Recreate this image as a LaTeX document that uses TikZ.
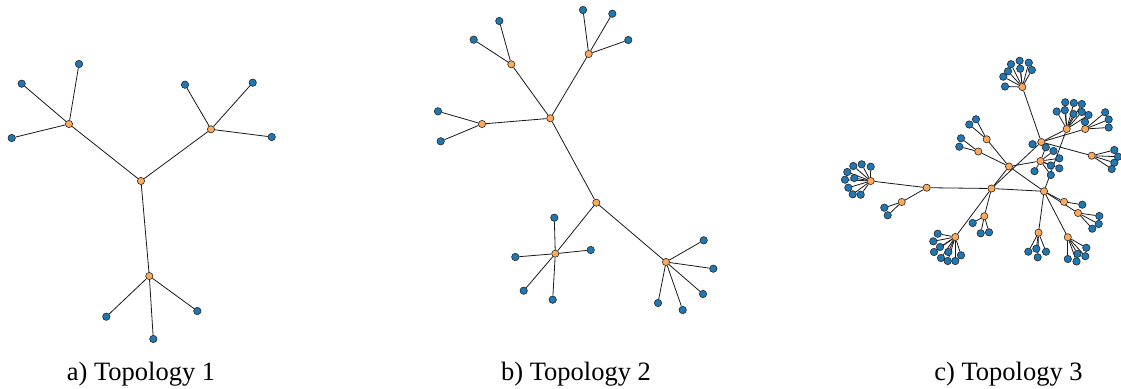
\documentclass[tikz,border=0pt]{standalone}
\usepackage{fontspec}
\setmainfont{Liberation Serif}
\pgfdeclarelayer{edges}
\pgfsetlayers{edges,main}
\definecolor{leafblue}{RGB}{31,119,180}
\definecolor{huborange}{RGB}{255,170,90}
\tikzset{
  leaf/.style={circle,draw=black!85,line width=0.6pt,fill=leafblue,inner sep=0pt,minimum size=7.4pt},
  hub/.style={circle,draw=black!85,line width=0.6pt,fill=huborange,inner sep=0pt,minimum size=7.2pt},
  link/.style={draw=black!90,line width=0.8pt},
  caption/.style={font=\fontsize{26.5}{30}\selectfont,anchor=base,inner sep=0pt}
}
% leaves hanging from one hub: \addleaves{hub}{x1/y1,x2/y2,...}
\newcommand\addleaves[2]{%
  \foreach \lx/\ly [count=\k] in {#2}{%
    \node[leaf] (#1-\k) at (\lx,\ly) {};
    \begin{pgfonlayer}{edges}\draw[link] (#1) -- (#1-\k);\end{pgfonlayer}
  }%
}
\newcommand\links[1]{%
  \begin{pgfonlayer}{edges}
  \foreach \ua/\ub in {#1}{\draw[link] (\ua) -- (\ub);}
  \end{pgfonlayer}%
}
\begin{document}
\begin{tikzpicture}[x=1pt,y=-1pt]
\useasboundingbox (0,0) rectangle (1121,388);

% ---------- Topology 1 ----------
\node[hub] (c1)  at (141,181) {};
\node[hub] (c1a) at (69,124) {};
\node[hub] (c1b) at (211,129.3) {};
\node[hub] (c1c) at (149.3,276) {};
\links{c1/c1a,c1/c1b,c1/c1c}
\addleaves{c1a}{79/64,21.7/83.7,11.7/138}
\addleaves{c1b}{185/84.7,252.7/82.7,271.7/137}
\addleaves{c1c}{106.3/316.7,153.3/339,197.3/311}

% ---------- Topology 2 ----------
\node[hub] (p)  at (550.3,118.3) {};
\node[hub] (q)  at (596.3,202.7) {};
\node[hub] (p1) at (511.3,64.3) {};
\node[hub] (p2) at (588.7,54) {};
\node[hub] (p3) at (482,124) {};
\node[hub] (q1) at (555.3,253.7) {};
\node[hub] (q2) at (666,262) {};
\links{p/p1,p/p2,p/p3,p/q,q/q1,q/q2}
\addleaves{p1}{499.3/21,473.7/39.7}
\addleaves{p2}{583/10,612.3/13.7,628.3/40}
\addleaves{p3}{438/111.3,440.7/141.3}
\addleaves{q1}{554.3/217.7,515.3/257,590.7/250,523.7/290.7,552.7/299.7}
\addleaves{q2}{703.7/240.3,713.3/268.7,703/294,682.7/310,658/303}

% ---------- Topology 3 ----------
\node[hub] (t)  at (1022.3,87) {};
\node[hub] (a)  at (1041.3,142) {};
\node[hub] (b)  at (1040.5,161) {};
\node[hub] (h1) at (1066.7,129) {};
\node[hub] (h2) at (1085.2,129) {};
\node[hub] (k)  at (1091.7,155.7) {};
\node[hub] (d)  at (986.7,139.3) {};
\node[hub] (e)  at (978.3,151.5) {};
\node[hub] (c)  at (1009,166.5) {};
\node[hub] (l)  at (991.5,188.5) {};
\node[hub] (r)  at (1044,191.3) {};
\node[hub] (f)  at (1064,201.8) {};
\node[hub] (g)  at (1078,213) {};
\node[hub] (h)  at (984.3,216.2) {};
\node[hub] (i)  at (1038.5,232.7) {};
\node[hub] (j)  at (1067.8,237.2) {};
\node[hub] (m)  at (926.7,187.7) {};
\node[hub] (n)  at (870.7,181) {};
\node[hub] (o)  at (901.7,202) {};
\node[hub] (s)  at (955.3,237) {};
\links{m/n,m/o,m/l,l/s,l/h,l/c,l/r,l/a,c/d,c/e,c/b,c/r,r/f,r/g,r/i,r/j,r/h1,a/t,a/h1,a/h2,a/k}
\addleaves{t}{1005/86.5,1003.3/76.7,1008/71.3,1011/64.2,1019.6/60.8,1020.2/68.7,1028.8/62.7,1031.8/70}
\addleaves{a}{1032.5/144.2}
\addleaves{b}{1045.8/147.3,1053.5/151,1059.3/158.3,1059.3/168.3,1050.8/165.5,1034.5/171.2,1050.8/175}
\addleaves{h1}{1065.2/102.3,1073.8/103,1081.8/104,1056.7/111.5,1064.8/110.2,1073.5/114,1081.8/112,1088.5/115}
\addleaves{h2}{1085/122,1105.2/112.3,1108.7/119.5,1108.7/127.5}
\addleaves{k}{1114.3/150,1118/156.7,1114.3/162.7,1111.7/169}
\addleaves{d}{976/119.3,969.3/124.5}
\addleaves{e}{961/138.3,959.3/146.7}
\addleaves{f}{1082.3/204.7}
\addleaves{g}{1099.3/216,1098.7/224,1092.3/228.7}
\addleaves{h}{972.7/223,980.7/233.3,989/232.3}
\addleaves{i}{1028.3/251.7,1036.3/248.7,1046/251.7,1037.7/257.3}
\addleaves{j}{1086.3/247.8,1077.5/253.8,1085.3/256.2,1067.8/259,1076.5/261.5}
\addleaves{n}{870.7/166.7,861.7/164.3,853.3/166,847.3/172,854.3/178,845/179.7,848.3/187.7,852.7/194.3,860.7/194.7}
\addleaves{o}{884.3/207.7,887.7/215.3}
\addleaves{s}{937.7/233.7,933.3/241.3,940/247,934/252,948.3/252,941/258,947.7/261,955.3/261,961/255.3}

% ---------- captions ----------
\node[caption] (capa) at (141,380) {a) Topology 1};
\node[caption] (capb) at (576,380) {b) Topology 2};
\node[caption] (capc) at (1008.5,380) {c) Topology 3};
\end{tikzpicture}
\end{document}
